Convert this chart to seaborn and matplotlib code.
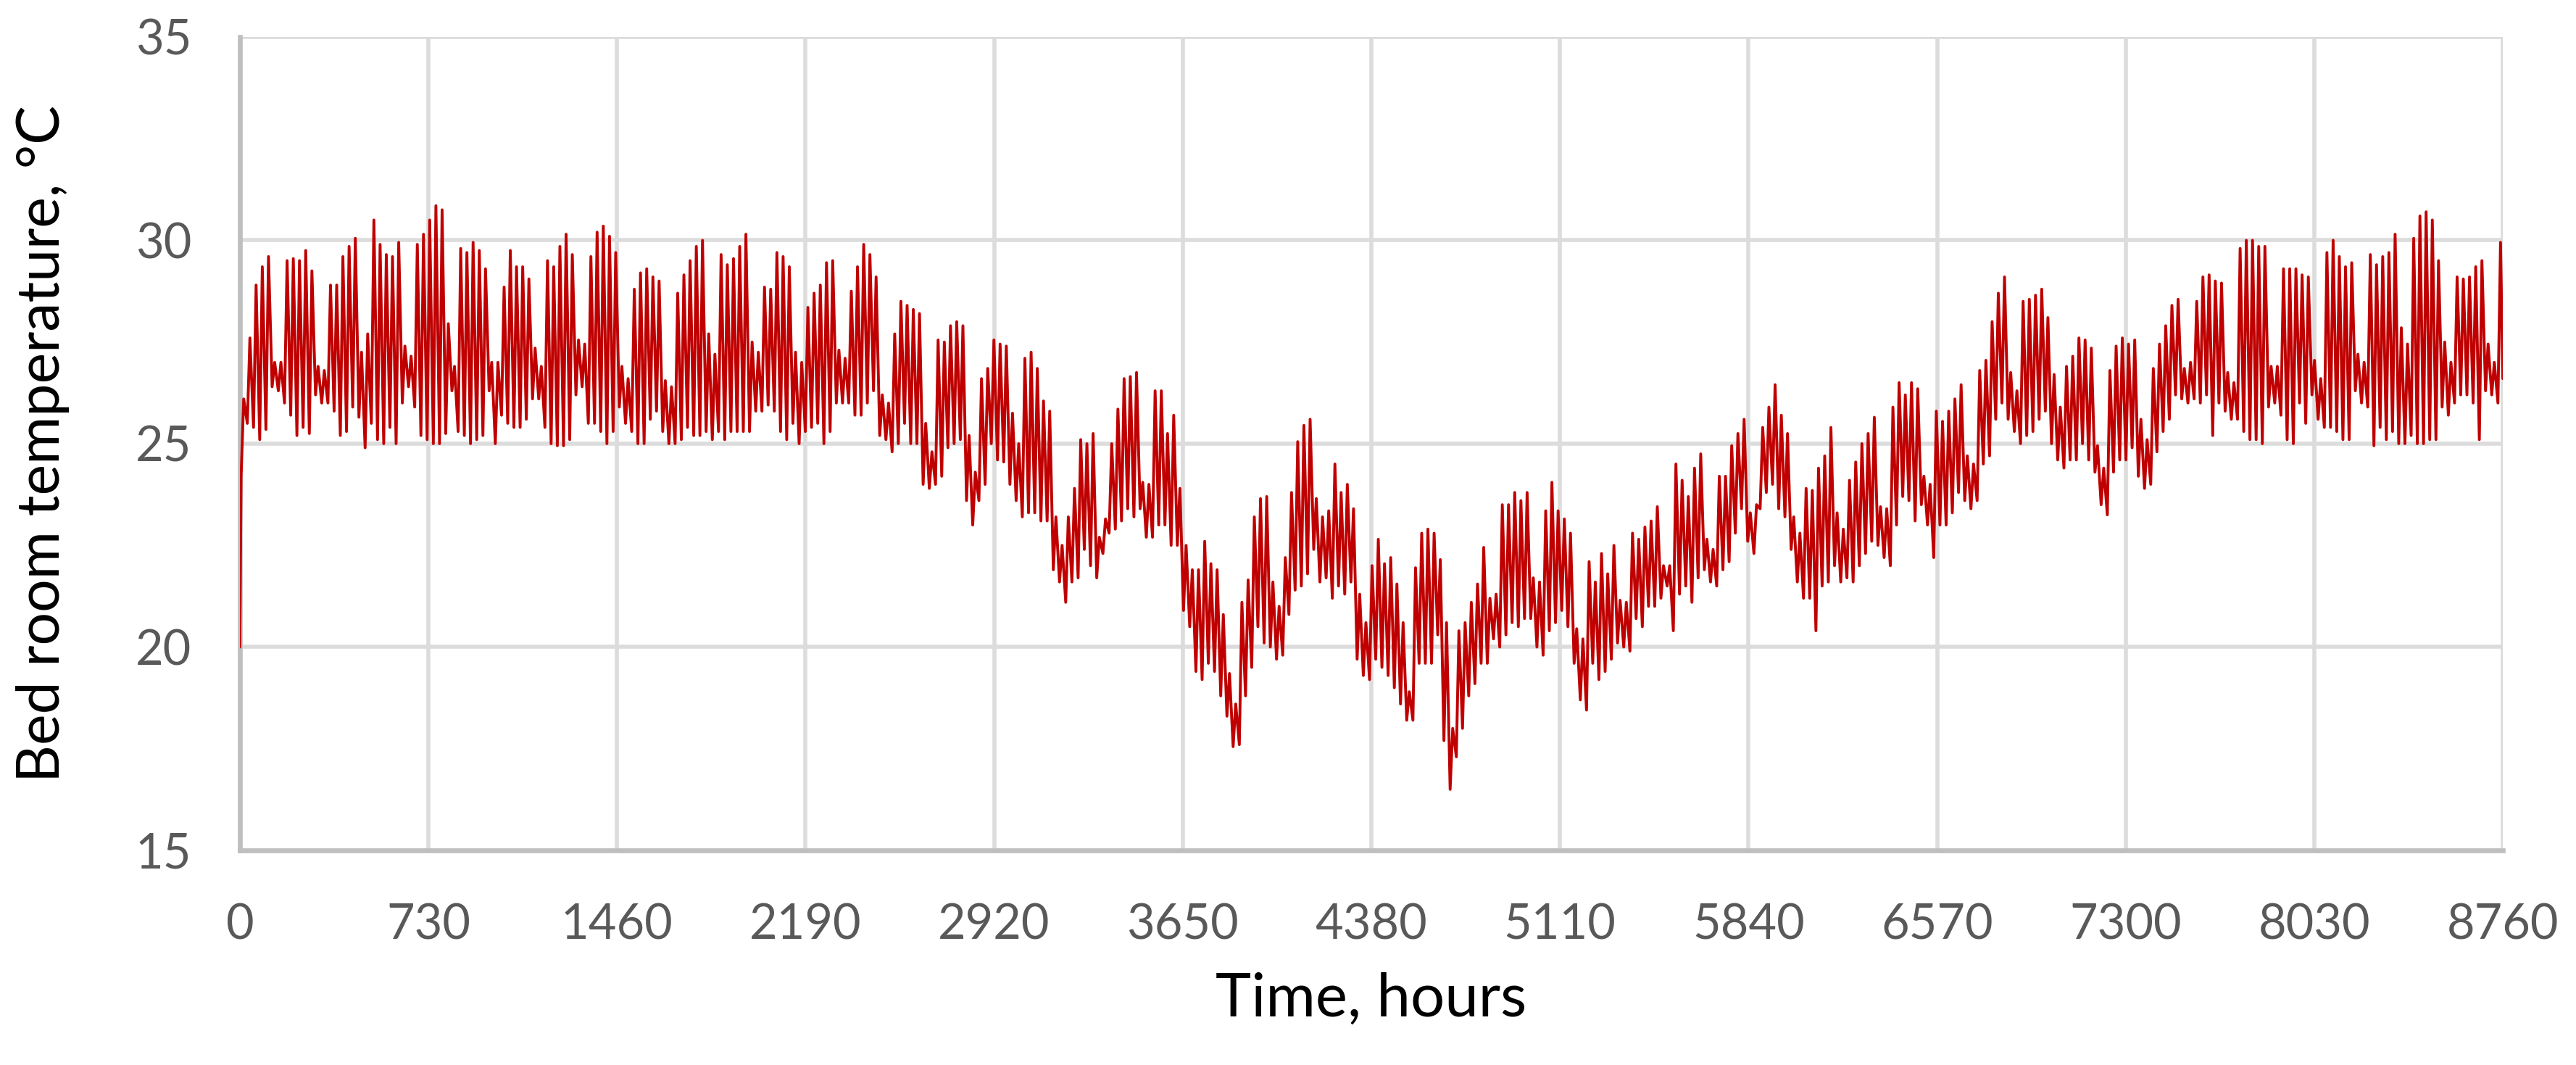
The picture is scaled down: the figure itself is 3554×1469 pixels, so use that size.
import numpy as np
import pandas as pd
import matplotlib
matplotlib.use("Agg")
import matplotlib.pyplot as plt
import seaborn as sns

# daily peak / trough of bed room temperature (degC), one row per week
day_high = [
    26.1, 27.6, 28.9, 29.35, 29.6, 27.0, 27.0,
    29.5, 29.55, 29.5, 29.75, 29.25, 26.9, 26.8,
    28.9, 28.9, 29.6, 29.85, 30.05, 27.25, 27.7,
    30.5, 29.9, 29.65, 29.6, 29.95, 27.4, 27.15,
    29.9, 30.15, 30.5, 30.85, 30.75, 27.95, 26.9,
    29.8, 29.7, 29.95, 29.75, 29.3, 27.0, 27.0,
    28.85, 29.75, 29.35, 29.35, 29.05, 27.35, 26.9,
    29.5, 29.35, 29.85, 30.15, 29.65, 27.55, 27.45,
    29.6, 30.2, 30.35, 30.1, 29.7, 26.9, 26.6,
    28.8, 29.2, 29.3, 29.1, 29.0, 26.55, 26.4,
    28.7, 29.15, 29.5, 29.85, 30.0, 27.7, 27.2,
    29.65, 29.4, 29.55, 29.85, 30.15, 27.5, 27.25,
    28.85, 28.8, 29.7, 29.6, 29.35, 27.25, 27.0,
    28.35, 28.7, 28.9, 29.45, 29.5, 27.3, 27.1,
    28.75, 29.35, 29.9, 29.65, 29.1, 26.2, 26.0,
    27.7, 28.5, 28.4, 28.3, 28.2, 25.5, 24.8,
    27.55, 27.5, 27.9, 28.0, 27.9, 25.2, 24.3,
    26.6, 26.85, 27.55, 27.45, 27.4, 25.75, 25.0,
    27.1, 27.25, 26.85, 26.05, 25.8, 23.2, 22.5,
    23.2, 23.9, 25.1, 25.0, 25.25, 22.7, 23.15,
    25.0, 25.85, 26.6, 26.65, 26.75, 24.05, 24.0,
    26.3, 26.3, 25.25, 25.7, 23.9, 22.5, 21.9,
    21.9, 22.6, 22.05, 21.9, 20.8, 19.35, 18.6,
    21.1, 21.65, 23.2, 23.65, 23.7, 21.6, 21.0,
    22.2, 23.8, 25.05, 25.45, 25.6, 23.65, 23.2,
    23.35, 24.5, 23.8, 24.0, 23.4, 21.3, 20.6,
    22.0, 22.65, 22.05, 22.2, 21.55, 20.6, 18.9,
    21.95, 22.8, 22.9, 22.8, 22.15, 20.6, 18.0,
    20.4, 20.6, 21.1, 21.55, 22.45, 21.2, 21.3,
    23.5, 23.5, 23.8, 23.6, 23.8, 21.7, 21.6,
    23.35, 24.05, 23.35, 23.15, 22.8, 20.45, 20.2,
    22.1, 21.6, 22.3, 21.8, 22.5, 21.15, 21.1,
    22.8, 22.65, 22.95, 23.1, 23.45, 22.0, 22.0,
    24.5, 24.1, 23.7, 24.4, 24.75, 22.65, 22.4,
    24.2, 24.2, 24.95, 25.25, 25.6, 23.3, 23.5,
    25.4, 25.9, 26.45, 25.7, 25.25, 23.2, 22.8,
    23.9, 23.85, 24.4, 24.7, 25.4, 23.3, 22.9,
    24.1, 24.55, 25.0, 25.25, 25.65, 23.45, 23.4,
    25.9, 26.5, 26.2, 26.5, 26.35, 24.2, 24.0,
    25.8, 25.55, 25.8, 26.1, 26.45, 24.7, 24.5,
    26.8, 27.05, 28.0, 28.7, 29.1, 26.75, 26.3,
    28.5, 28.55, 28.65, 28.8, 28.1, 26.7, 25.9,
    26.9, 27.15, 27.6, 27.55, 27.35, 24.95, 24.4,
    26.8, 27.4, 27.6, 27.45, 27.55, 25.6, 25.1,
    26.85, 27.45, 27.9, 28.4, 28.55, 26.85, 27.0,
    28.5, 29.1, 29.15, 29.0, 28.95, 26.75, 26.5,
    29.8, 30.0, 30.0, 29.85, 29.85, 26.9, 26.9,
    29.3, 29.3, 29.3, 29.15, 29.1, 27.05, 26.6,
    29.7, 30.0, 29.6, 29.35, 29.45, 27.2, 27.0,
    29.65, 29.4, 29.6, 29.7, 30.15, 27.85, 27.45,
    30.05, 30.6, 30.7, 30.5, 29.5, 27.5, 27.0,
    29.1, 29.05, 29.1, 29.35, 29.5, 27.45, 27.0,
    29.95,
]

day_low = [
    24.2, 25.5, 25.4, 25.1, 25.35, 26.4, 26.3,
    26.0, 25.7, 25.2, 25.4, 25.25, 26.2, 26.0,
    26.0, 25.8, 25.2, 25.3, 25.9, 25.65, 24.9,
    25.5, 25.1, 25.0, 25.4, 25.0, 26.0, 26.4,
    25.9, 25.2, 25.1, 25.0, 25.0, 25.25, 26.3,
    25.3, 25.2, 25.0, 25.1, 25.2, 26.3, 25.0,
    25.7, 25.5, 25.4, 25.4, 25.6, 26.1, 26.1,
    25.4, 25.0, 24.95, 24.95, 25.1, 26.2, 26.4,
    25.5, 25.5, 25.3, 25.0, 25.3, 25.9, 25.5,
    25.3, 25.0, 25.0, 25.6, 25.8, 25.3, 25.0,
    25.0, 25.1, 25.4, 25.2, 25.2, 25.3, 25.1,
    25.3, 25.1, 25.3, 25.3, 25.3, 25.3, 25.8,
    25.8, 25.95, 25.8, 25.3, 25.1, 25.5, 25.0,
    25.3, 25.4, 25.5, 25.0, 25.3, 26.0, 26.0,
    26.0, 25.7, 25.7, 26.0, 26.3, 25.2, 25.1,
    24.8, 25.0, 25.5, 25.0, 25.0, 24.0, 23.9,
    24.0, 24.2, 24.9, 25.0, 25.1, 23.6, 23.0,
    23.6, 24.0, 25.0, 24.6, 24.55, 24.0, 23.6,
    23.2, 23.3, 23.3, 23.1, 23.1, 21.9, 21.6,
    21.1, 21.6, 21.7, 22.4, 22.0, 21.7, 22.3,
    22.8, 22.9, 23.1, 23.4, 23.2, 23.4, 22.7,
    22.7, 23.0, 23.0, 22.5, 22.5, 20.9, 20.5,
    19.4, 19.2, 19.6, 19.4, 18.8, 18.3, 17.55,
    17.6, 18.8, 19.5, 20.5, 20.1, 20.0, 19.7,
    19.8, 20.8, 21.4, 21.5, 21.8, 22.4, 21.6,
    21.7, 21.2, 21.5, 21.3, 21.6, 19.7, 19.3,
    19.2, 19.7, 19.5, 19.3, 19.0, 18.6, 18.2,
    18.2, 19.6, 19.6, 19.6, 20.3, 17.7, 16.5,
    17.3, 18.0, 18.8, 19.1, 19.6, 19.6, 20.2,
    20.0, 20.3, 20.6, 20.5, 20.7, 20.7, 20.0,
    19.8, 20.4, 20.6, 20.9, 20.5, 19.6, 18.7,
    18.45, 19.6, 19.2, 19.4, 19.7, 20.1, 20.0,
    19.9, 20.7, 20.5, 21.0, 21.0, 21.2, 21.5,
    20.4, 21.3, 21.5, 21.1, 21.7, 21.9, 21.6,
    21.5, 21.9, 22.1, 22.8, 23.4, 22.6, 22.3,
    23.4, 23.8, 24.0, 23.4, 23.2, 22.4, 21.6,
    21.2, 21.2, 20.4, 21.5, 21.6, 22.0, 21.6,
    21.7, 21.6, 22.0, 22.3, 22.6, 22.5, 22.2,
    22.0, 23.0, 23.7, 23.6, 23.1, 23.5, 23.0,
    22.2, 23.0, 23.0, 23.3, 23.8, 23.6, 23.4,
    23.6, 24.5, 24.7, 25.6, 26.0, 25.6, 25.3,
    25.0, 25.2, 25.3, 25.6, 25.8, 25.0, 24.6,
    24.4, 24.6, 24.6, 25.0, 24.6, 24.3, 23.5,
    23.25, 24.3, 24.6, 24.6, 24.9, 24.2, 23.9,
    24.0, 24.8, 25.3, 25.6, 26.2, 26.1, 26.0,
    26.1, 26.0, 26.2, 25.2, 26.0, 25.8, 25.6,
    25.6, 25.3, 25.1, 25.1, 25.0, 25.9, 26.0,
    25.7, 25.1, 25.0, 26.0, 25.5, 26.2, 25.6,
    25.4, 25.4, 25.3, 25.1, 25.1, 26.3, 26.0,
    25.9, 24.95, 25.4, 25.1, 25.3, 25.0, 25.0,
    25.2, 25.0, 25.0, 25.1, 25.1, 25.9, 25.7,
    26.0, 26.2, 26.2, 26.0, 25.1, 26.3, 26.2,
    26.0,
]

start_temp = 20.0
end_temp = 26.6
x_ticks = list(range(0, 8761, 730))
y_ticks = [15, 20, 25, 30, 35]

# hourly positions: trough in the early morning, peak in the afternoon
day_start = np.arange(len(day_high)) * 24
hours = [0]
temps = [start_temp]
for d in range(len(day_high)):
    hours += [day_start[d] + 5, day_start[d] + 15]
    temps += [day_low[d], day_high[d]]
hours.append(8760)
temps.append(end_temp)
df = pd.DataFrame({"hour": hours, "temp": temps})

sns.set_style("white")
plt.rcParams["font.family"] = ["Lato", "DejaVu Sans"]

fig = plt.figure(figsize=(17.77, 7.345), dpi=200)
ax = fig.add_axes([0.0931, 0.2015, 0.8785, 0.7638])

sns.lineplot(data=df, x="hour", y="temp", color="#C00000", linewidth=1.4,
             estimator=None, sort=False, ax=ax, zorder=3)

ax.set_xlim(0, 8760)
ax.set_ylim(15, 35)
ax.set_xticks(x_ticks)
ax.set_yticks(y_ticks)
ax.grid(True, color="#DCDCDC", linewidth=2.0)
ax.set_axisbelow(True)
for side in ["top", "right"]:
    ax.spines[side].set_visible(False)
for side in ["left", "bottom"]:
    ax.spines[side].set_color("#BFBFBF")
    ax.spines[side].set_linewidth(2.4)
ax.tick_params(axis="both", length=0, labelsize=24, labelcolor="#595959")
ax.tick_params(axis="y", pad=24)
ax.tick_params(axis="x", pad=26)

ax.set_xlabel("Time, hours", fontsize=30, color="black")
ax.set_ylabel("Bed room temperature, °C", fontsize=29, color="black")
ax.xaxis.set_label_coords(0.5, -0.183)
ax.xaxis.label.set_va("center")
ax.yaxis.set_label_coords(-0.087, 0.5)
ax.yaxis.label.set_va("center")

fig.savefig("out.png", dpi=200)
